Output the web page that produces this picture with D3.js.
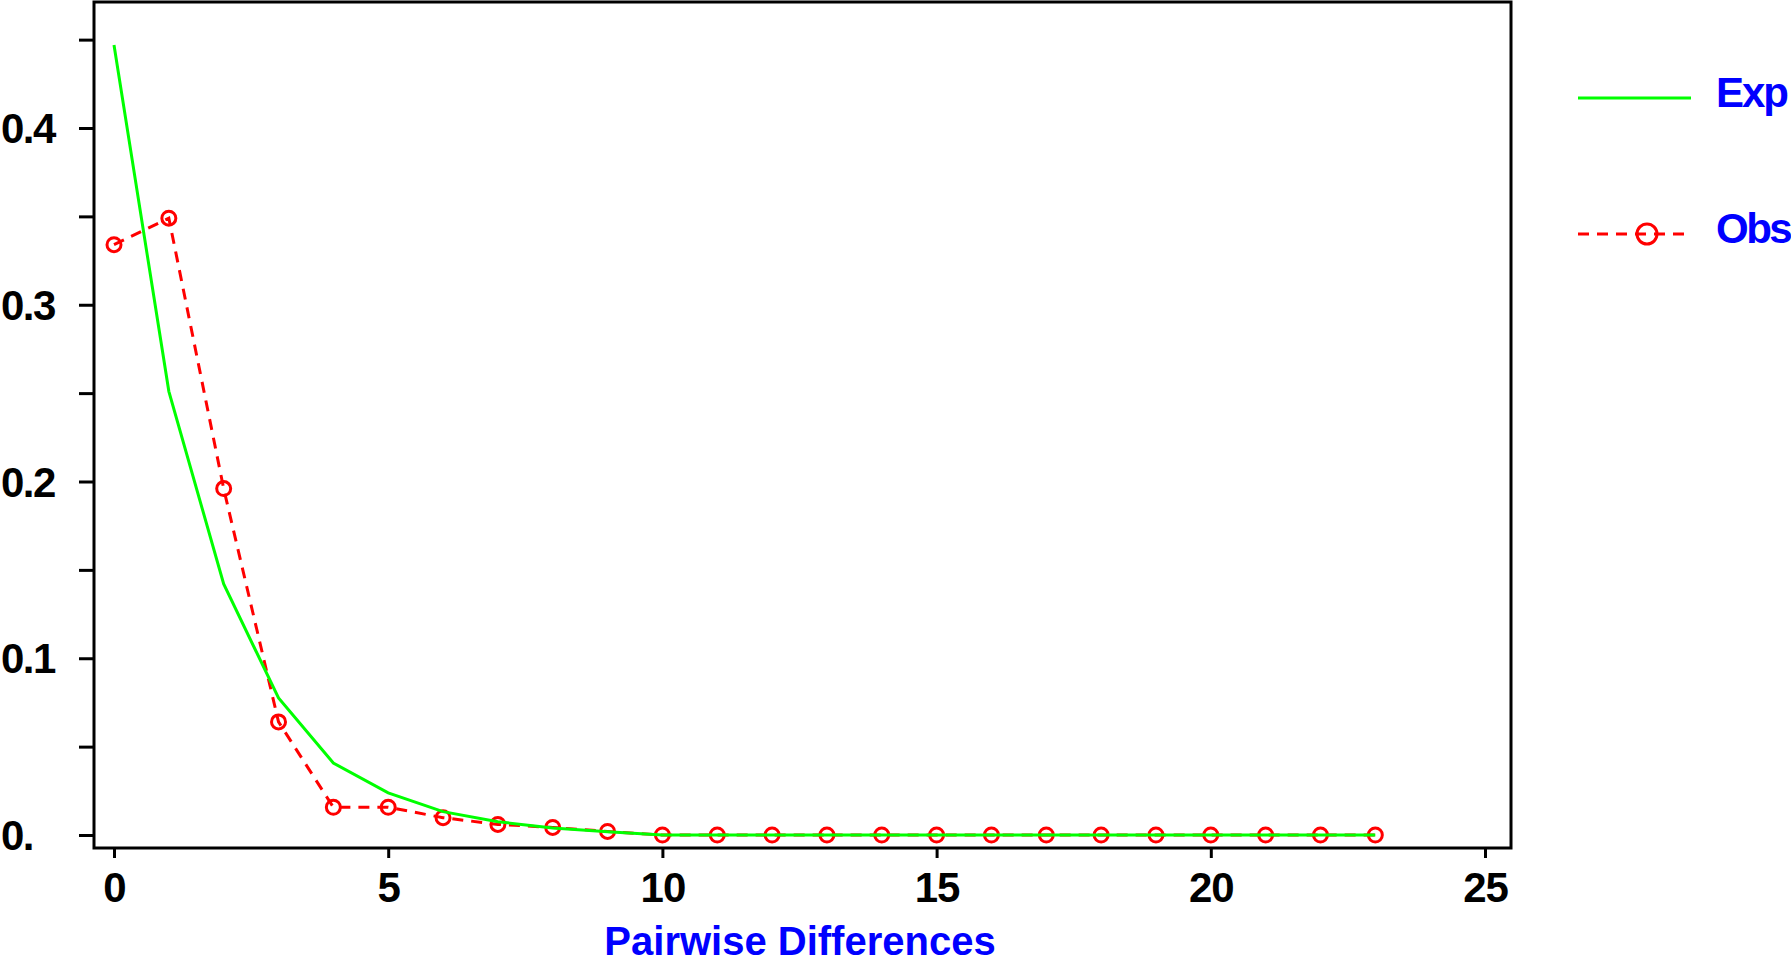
<!DOCTYPE html>
<html>
<head>
<meta charset="utf-8">
<script src="https://cdn.jsdelivr.net/npm/d3@7"></script>
<style>
  html, body { margin: 0; padding: 0; background: #fff; overflow: hidden; }
  svg { display: block; }
  text { font-family: "Liberation Sans", Arial, "DejaVu Sans", sans-serif; font-weight: bold; }
</style>
</head>
<body>
<svg id="chart" width="1791" height="964"></svg>
<script>
// Pairwise differences (categories)
const differences = d3.range(0, 24);
// Observed frequencies
const observed = [0.334, 0.349, 0.196, 0.064, 0.0157, 0.0157, 0.0098, 0.006, 0.0043, 0.002,
                  0, 0, 0, 0, 0, 0, 0, 0, 0, 0, 0, 0, 0, 0];
// Expected frequencies
const expected = [0.447, 0.251, 0.142, 0.0775, 0.0407, 0.0238, 0.0132, 0.0075, 0.004, 0.0019,
                  0, 0, 0, 0, 0, 0, 0, 0, 0, 0, 0, 0, 0, 0];
const xTicks = [0, 5, 10, 15, 20, 25];
const yTicks = [0, 0.05, 0.1, 0.15, 0.2, 0.25, 0.3, 0.35, 0.4, 0.45];
const yTickLabels = {0: "0.", 0.1: "0.1", 0.2: "0.2", 0.3: "0.3", 0.4: "0.4"};
const seriesNames = ["Exp", "Obs"];
const xTitle = "Pairwise Differences";

const svg = d3.select("#chart");
const x = d3.scaleLinear().domain([0, 25]).range([114, 1485]);
const y = d3.scaleLinear().domain([0, 0.45]).range([835, 835 - 0.45 * 1767.5]);

const frame = {left: 94, right: 1511, top: 2, bottom: 848};

// Frame
svg.append("rect")
  .attr("x", frame.left).attr("y", frame.top)
  .attr("width", frame.right - frame.left).attr("height", frame.bottom - frame.top)
  .attr("fill", "none").attr("stroke", "#000").attr("stroke-width", 3);

// Y axis
const yAxis = d3.axisLeft(y)
  .tickValues(yTicks)
  .tickSize(15)
  .tickPadding(21)
  .tickFormat(d => {
    const k = Math.round(d * 100) / 100;
    return yTickLabels[k] !== undefined ? yTickLabels[k] : "";
  });
const gy = svg.append("g").attr("transform", `translate(${frame.left},0)`).call(yAxis);
gy.select(".domain").remove();
gy.selectAll(".tick line").attr("stroke", "#000").attr("stroke-width", 3);
gy.selectAll(".tick text")
  .attr("text-anchor", "start")
  .attr("x", -frame.left + 1)
  .attr("font-size", 42).attr("fill", "#000").attr("dy", "0.35em")
  .style("letter-spacing", "-1.5px")
  .style("font-family", '"Liberation Sans", Arial, sans-serif').style("font-weight", "bold");

// X axis
const xAxis = d3.axisBottom(x)
  .tickValues(xTicks)
  .tickSize(10)
  .tickPadding(14)
  .tickFormat(d3.format("d"));
const gx = svg.append("g").attr("transform", `translate(0,${frame.bottom})`).call(xAxis);
gx.select(".domain").remove();
gx.selectAll(".tick line").attr("stroke", "#000").attr("stroke-width", 3);
gx.selectAll(".tick text").attr("font-size", 42).attr("fill", "#000")
  .style("letter-spacing", "-1px")
  .style("font-family", '"Liberation Sans", Arial, sans-serif').style("font-weight", "bold");

// X title
svg.append("text")
  .attr("x", 800).attr("y", 955)
  .attr("text-anchor", "middle")
  .attr("font-size", 40)
  .attr("fill", "#0000ff")
  .text(xTitle);

// Observed line (red dashed with circles)
const obsData = differences.map((d, i) => ({x: d, y: observed[i]}));
const expData = differences.map((d, i) => ({x: d, y: expected[i]}));
const line = d3.line().x(d => x(d.x)).y(d => y(d.y));

svg.append("path")
  .datum(obsData)
  .attr("d", line)
  .attr("fill", "none")
  .attr("stroke", "#ff0000")
  .attr("stroke-width", 3)
  .attr("stroke-dasharray", "11,8");

svg.append("g").selectAll("circle")
  .data(obsData)
  .join("circle")
  .attr("cx", d => x(d.x)).attr("cy", d => y(d.y))
  .attr("r", 7)
  .attr("fill", "none")
  .attr("stroke", "#ff0000")
  .attr("stroke-width", 3);

// Expected line (green)
svg.append("path")
  .datum(expData)
  .attr("d", line)
  .attr("fill", "none")
  .attr("stroke", "#00ff00")
  .attr("stroke-width", 3);

// Legend
const lg = svg.append("g");
lg.append("line").attr("x1", 1578).attr("x2", 1691).attr("y1", 98).attr("y2", 98)
  .attr("stroke", "#00ff00").attr("stroke-width", 3);
lg.append("text").attr("x", 1716).attr("y", 107).attr("font-size", 42)
  .style("letter-spacing", "-2px")
  .attr("fill", "#0000ff").text(seriesNames[0]);
lg.append("line").attr("x1", 1578).attr("x2", 1691).attr("y1", 234).attr("y2", 234)
  .attr("stroke", "#ff0000").attr("stroke-width", 3).attr("stroke-dasharray", "11,8");
lg.append("circle").attr("cx", 1647).attr("cy", 234).attr("r", 10)
  .attr("fill", "none").attr("stroke", "#ff0000").attr("stroke-width", 3);
lg.append("text").attr("x", 1716).attr("y", 243).attr("font-size", 42)
  .style("letter-spacing", "-2.5px")
  .attr("fill", "#0000ff").text(seriesNames[1]);
</script>
</body>
</html>
